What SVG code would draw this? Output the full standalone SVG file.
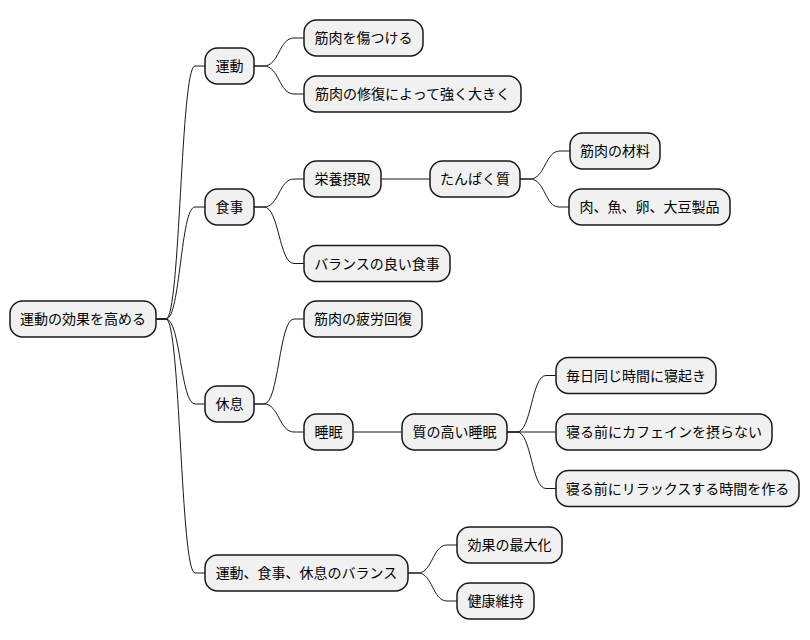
<svg xmlns="http://www.w3.org/2000/svg" width="810" height="640" viewBox="0 0 810 640">
<style>
  .n rect { fill: #F1F1F1; stroke: #181818; stroke-width: 1.5; }
  .n text { font-family: "Noto Sans CJK JP", "Noto Sans", sans-serif; font-size: 14px; fill: #000000; text-anchor: middle; }
  #connectors path { fill: none; stroke: #181818; stroke-width: 1; }
</style>
<rect x="0" y="0" width="810" height="640" fill="#FFFFFF"/>
<g id="connectors">
  <path d="M156 319 H166 C180.5 319 180.5 66 195 66 H205"/>
  <path d="M156 319 H166 C180.5 319 180.5 207 195 207 H205"/>
  <path d="M156 319 H166 C180.5 319 180.5 404 195 404 H205"/>
  <path d="M156 319 H166 C180.5 319 180.5 573 195 573 H205"/>
  <path d="M254 66 H264 C279 66 279 38 294 38 H304"/>
  <path d="M254 66 H264 C279 66 279 94 294 94 H304"/>
  <path d="M254 207 H264 C279 207 279 179 294 179 H304"/>
  <path d="M254 207 H264 C279 207 279 263.5 294 263.5 H304"/>
  <path d="M381 179 H430"/>
  <path d="M520 179 H530 C545 179 545 151 560 151 H570"/>
  <path d="M520 179 H530 C545 179 545 207 559 207 H569"/>
  <path d="M254 404 H264 C279 404 279 319 294 319 H304"/>
  <path d="M254 404 H264 C279 404 279 432 294 432 H304"/>
  <path d="M353 432 H402"/>
  <path d="M507 432 H517 C531.5 432 531.5 375.5 546 375.5 H556"/>
  <path d="M507 432 H556"/>
  <path d="M507 432 H517 C531.5 432 531.5 488.5 546 488.5 H556"/>
  <path d="M408 573 H418 C432.5 573 432.5 545 447 545 H457"/>
  <path d="M408 573 H418 C432.5 573 432.5 601 447 601 H457"/>
</g>
<g id="root" class="n"><rect x="10" y="301" width="146" height="36" rx="12.5"/><text x="83" y="324">運動の効果を高める</text></g>
<g id="undou" class="n"><rect x="205" y="48" width="49" height="36" rx="12.5"/><text x="229.5" y="71">運動</text></g>
<g id="shokuji" class="n"><rect x="205" y="189" width="49" height="36" rx="12.5"/><text x="229.5" y="212">食事</text></g>
<g id="kyusoku" class="n"><rect x="205" y="386" width="49" height="36" rx="12.5"/><text x="229.5" y="409">休息</text></g>
<g id="balance" class="n"><rect x="205" y="555" width="203" height="36" rx="12.5"/><text x="306.5" y="578">運動、食事、休息のバランス</text></g>
<g id="kizu" class="n"><rect x="304" y="20" width="119" height="36" rx="12.5"/><text x="363.5" y="43">筋肉を傷つける</text></g>
<g id="shufuku" class="n"><rect x="304" y="76" width="217" height="36" rx="12.5"/><text x="412.5" y="99">筋肉の修復によって強く大きく</text></g>
<g id="eiyou" class="n"><rect x="304" y="161" width="77" height="36" rx="12.5"/><text x="342.5" y="184">栄養摂取</text></g>
<g id="protein" class="n"><rect x="430" y="161" width="90" height="36" rx="12.5"/><text x="475" y="184">たんぱく質</text></g>
<g id="zairyou" class="n"><rect x="570" y="133" width="90" height="36" rx="12.5"/><text x="615" y="156">筋肉の材料</text></g>
<g id="niku" class="n"><rect x="569" y="189" width="161" height="36" rx="12.5"/><text x="649.5" y="212">肉、魚、卵、大豆製品</text></g>
<g id="yoishokuji" class="n"><rect x="304" y="245.5" width="146" height="36" rx="12.5"/><text x="377" y="268.5">バランスの良い食事</text></g>
<g id="hirou" class="n"><rect x="304" y="301" width="118" height="36" rx="12.5"/><text x="363" y="324">筋肉の疲労回復</text></g>
<g id="suimin" class="n"><rect x="304" y="414" width="49" height="36" rx="12.5"/><text x="328.5" y="437">睡眠</text></g>
<g id="shitsu" class="n"><rect x="402" y="414" width="105" height="36" rx="12.5"/><text x="454.5" y="437">質の高い睡眠</text></g>
<g id="mainichi" class="n"><rect x="556" y="357.5" width="160" height="36" rx="12.5"/><text x="636" y="380.5">毎日同じ時間に寝起き</text></g>
<g id="caffeine" class="n"><rect x="556" y="414" width="216" height="36" rx="12.5"/><text x="664" y="437">寝る前にカフェインを摂らない</text></g>
<g id="relax" class="n"><rect x="556" y="470.5" width="243" height="36" rx="12.5"/><text x="677.5" y="493.5">寝る前にリラックスする時間を作る</text></g>
<g id="saidaika" class="n"><rect x="457" y="527" width="105" height="36" rx="12.5"/><text x="509.5" y="550">効果の最大化</text></g>
<g id="kenkou" class="n"><rect x="457" y="583" width="77" height="36" rx="12.5"/><text x="495.5" y="606">健康維持</text></g>
</svg>
